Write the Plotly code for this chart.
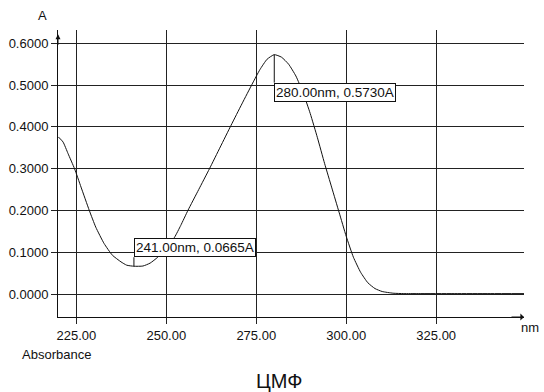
import plotly.graph_objects as go

wavelength = [220, 221.3, 222.7, 224.5, 226.3, 228.6, 230.4, 232.7, 235, 237.4, 239, 241,
              243.5, 245.5, 247.6, 250, 252.3, 254, 256, 259, 262, 265, 268, 271, 274, 276,
              278, 280, 282, 284, 286, 288, 290, 292, 294, 296, 298, 300, 302, 304, 306,
              308, 310, 313, 316, 320, 330, 340, 349.5]
absorbance = [0.376, 0.364, 0.336, 0.300, 0.256, 0.200, 0.160, 0.121, 0.093, 0.077, 0.069,
              0.0665, 0.067, 0.074, 0.088, 0.110, 0.136, 0.164, 0.200, 0.250, 0.300, 0.352,
              0.404, 0.455, 0.505, 0.537, 0.562, 0.573, 0.567, 0.550, 0.522, 0.482, 0.432,
              0.374, 0.312, 0.254, 0.196, 0.138, 0.088, 0.052, 0.027, 0.013, 0.006, 0.002,
              0.001, 0.001, 0.001, 0.001, 0.001]

peak_labels = [(280.00, 0.5730, 28, "top"), (241.00, 0.0665, -9, "bottom")]
x_ticks = [225, 250, 275, 300, 325]
y_ticks = [0.0, 0.1, 0.2, 0.3, 0.4, 0.5, 0.6]

font_family = "Liberation Sans, Arial, sans-serif"
grid_c = "#222222"

fig = go.Figure()
fig.add_trace(go.Scatter(x=wavelength, y=absorbance, mode="lines",
                         line=dict(color="#111111", width=1, shape="spline", smoothing=0.5),
                         showlegend=False, hoverinfo="skip"))

for wl, ab, dy, ya in peak_labels:
    fig.add_annotation(x=wl, y=ab, xref="x", yref="y",
                       text=f"{wl:.2f}nm, {ab:.4f}A",
                       showarrow=True, arrowhead=0, arrowwidth=1, arrowcolor="#111111",
                       ax=0, ay=dy, xanchor="left", yanchor=ya, standoff=0, startstandoff=0,
                       bgcolor="white", bordercolor="#111111", borderwidth=1, borderpad=1,
                       font=dict(family=font_family, size=13.5, color="#111111"))

# axis arrows
fig.add_annotation(xref="paper", yref="paper", x=0, y=0.985, ax=0, ay=12, showarrow=True,
                   arrowhead=2, arrowsize=1, arrowwidth=1, arrowcolor="#111111", text="")
fig.add_annotation(xref="paper", yref="paper", x=1, y=0, ax=-14, ay=0, showarrow=True,
                   arrowhead=1, arrowsize=1.2, arrowwidth=1, arrowcolor="#111111", text="")

# axis texts
fig.add_annotation(xref="paper", yref="paper", x=-0.034, y=1.052, text="A", showarrow=False,
                   xanchor="center", yanchor="middle",
                   font=dict(family=font_family, size=13, color="#111111"))
fig.add_annotation(xref="paper", yref="paper", x=(541 - 58) / 466, y=-0.035, text="nm",
                   showarrow=False, xanchor="right", yanchor="middle",
                   font=dict(family=font_family, size=13, color="#111111"))
fig.add_annotation(xref="paper", yref="paper", x=-0.082, y=-0.129, text="Absorbance",
                   showarrow=False, xanchor="left", yanchor="middle",
                   font=dict(family=font_family, size=13, color="#111111"))
fig.add_annotation(xref="paper", yref="paper", x=(279 - 58) / 466, y=(317 - 381) / 287,
                   text="ЦМФ", showarrow=False, xanchor="center", yanchor="middle",
                   font=dict(family=font_family, size=20, color="#111111"))

fig.update_layout(
    width=544, height=392,
    margin=dict(l=58, r=20, t=30, b=75),
    paper_bgcolor="white", plot_bgcolor="white",
    font=dict(family=font_family, size=13, color="#111111"),
    xaxis=dict(range=[219.9, 349.4], tickvals=x_ticks, tickformat=".2f", automargin=False,
               showgrid=True, gridcolor=grid_c, gridwidth=1, zeroline=False,
               showline=True, linecolor="#111111", linewidth=1,
               ticks="outside", ticklen=6, tickcolor=grid_c, fixedrange=True,
               tickfont=dict(size=13)),
    yaxis=dict(range=[-0.055, 0.632], tickvals=y_ticks, tickformat=".4f", automargin=False,
               showgrid=True, gridcolor=grid_c, gridwidth=1, zeroline=False,
               showline=True, linecolor="#111111", linewidth=1,
               ticks="outside", ticklen=6, tickcolor=grid_c, fixedrange=True,
               tickfont=dict(size=13)),
)

fig.write_html("out.html", config={"displayModeBar": False},
               post_script="document.body.style.margin='0';document.body.style.overflow='hidden';")
